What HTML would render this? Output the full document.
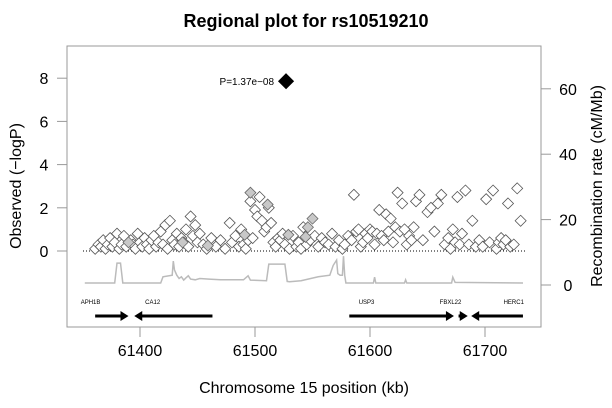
<!DOCTYPE html>
<html><head><meta charset="utf-8"><style>
body{margin:0;background:#fff}
svg{display:block;font-family:"Liberation Sans",Arial,sans-serif}
</style></head><body>
<svg id="chart" width="612" height="408" viewBox="0 0 612 408"></svg>
<script>
const posKb=[61361,61364,61366,61368,61370,61372,61374,61376,61378,61380,61382,61384,61386,61388,61392,61394,61396,61398,61400,61402,61404,61406,61408,61410,61412,61414,61416,61418,61420,61422,61424,61426,61428,61430,61432,61434,61436,61438,61440,61442,61444,61446,61448,61450,61452,61455,61458,61462,61466,61470,61474,61478,61480,61483,61486,61488,61490,61492,61494,61496,61498,61500,61502,61504,61506,61508,61510,61512,61514,61516,61518,61520,61522,61524,61526,61530,61533,61536,61538,61540,61542,61545,61548,61552,61555,61558,61561,61564,61567,61570,61573,61576,61578,61581,61584,61586,61588,61590,61592,61594,61596,61598,61600,61602,61604,61606,61608,61610,61612,61614,61616,61618,61620,61622,61624,61626,61628,61630,61632,61634,61636,61638,61640,61643,61646,61650,61653,61656,61659,61662,61665,61668,61670,61672,61674,61676,61678,61680,61683,61686,61689,61692,61695,61698,61701,61704,61707,61710,61712,61714,61716,61718,61720,61722,61725,61728,61731];
const logP=[0.1,0.3,0.2,0.5,0.1,0.3,0.6,0.2,0.4,0.8,0.1,0.3,0.7,0.2,0.5,0.3,0.1,0.8,0.4,0.2,0.6,0.3,0.1,0.5,0.7,0.2,0.4,0.9,0.3,1.2,0.1,1.4,0.5,0.3,0.8,0.2,0.6,0.4,1.0,0.2,1.6,0.7,1.2,0.4,0.8,0.3,0.1,0.6,0.2,0.5,0.1,1.3,0.4,0.7,0.2,1.0,0.3,0.1,0.5,2.3,0.6,1.9,1.6,2.5,1.4,0.9,1.1,2.0,1.3,0.4,0.2,0.6,0.5,0.8,0.3,0.1,0.7,0.2,0.4,0.1,1.1,0.3,0.5,0.7,0.2,0.6,0.4,0.3,0.8,0.2,0.5,0.1,0.3,0.7,0.5,2.6,0.9,1.0,0.2,0.4,0.8,0.6,1.0,0.9,0.3,0.8,1.9,0.7,0.5,1.7,0.9,1.5,0.4,1.1,2.7,0.9,2.2,1.0,0.3,0.7,0.5,1.1,2.3,2.6,0.5,1.8,2.0,0.9,2.2,2.6,0.3,0.6,0.1,1.0,0.4,2.5,0.3,0.8,2.8,0.3,1.4,0.2,0.5,0.2,2.4,0.4,2.8,0.1,0.4,0.6,0.3,0.5,2.2,0.2,0.3,2.9,1.4,1.2,0.4,2.0,1.8];
const hiPos=[61390,61437,61459,61496,61491,61511,61529,61550,61546,61544];
const hiP=[0.4,0.4,0.25,2.7,0.75,2.15,0.75,1.5,1.1,0.65];
const topPos=[61527];
const topP=[7.86];
const recPos=[61352,61378,61380,61383,61385,61418,61420,61428,61429,61430,61432,61434,61436,61438,61440,61442,61444,61448,61452,61460,61470,61490,61494,61496,61510,61512,61526,61528,61530,61540,61555,61565,61568,61571,61572,61574,61576,61577,61578,61579,61580,61603,61604,61605,61630,61631,61632,61671,61672,61674,61733];
const recRate=[0.6,0.6,6.7,6.7,0.6,0.6,2.5,3,7.3,4.6,3,2,2.5,1.5,2.2,2.8,1.8,1.6,2,1.8,1.6,1.6,2.8,1.5,1.3,6.4,6.4,1.1,1.0,1.3,2.5,3.0,6,7.6,3.5,3,3,8.8,3,0.6,0.6,0.6,2.4,0.6,0.6,1.6,0.6,0.6,2.4,0.8,0.6];
const genes=["APH1B","CA12","USP3","FBXL22","HERC1"];
const gStart=[61361,61463,61582,61677,61733];
const gEnd=[61390,61395,61673,61685,61688];
const gLabel=[61357,61411,61597,61670,61725];
const xTicks=[61400,61500,61600,61700];
const yTicks=[0,2,4,6,8];
const rTicks=[0,20,40,60];

const NS="http://www.w3.org/2000/svg";
const svg=document.getElementById('chart');
const X=v=>140+(v-61400)*1.15;
const Y=v=>251-v*21.6;
const R=v=>285-v*3.27;
function mk(t,a,p){const e=document.createElementNS(NS,t);for(const k in a)e.setAttribute(k,a[k]);(p||svg).appendChild(e);return e;}
function txt(s,a){const e=mk('text',a);e.textContent=s;return e;}

let t=txt('Regional plot for rs10519210',{x:306,y:27,'text-anchor':'middle','font-size':18,'font-weight':'bold'});



let box=mk('rect',{x:67,y:46,width:474,height:281,fill:'none',stroke:'#999','stroke-width':1});



yTicks.forEach(v=>{
  const g=mk('g',{});
  
  
  mk('line',{x1:57,x2:67,y1:Y(v),y2:Y(v),stroke:'#999'},g);
  const l=txt(v,{x:44,y:Y(v)+6,'text-anchor':'middle','font-size':16});g.appendChild(l);
});
rTicks.forEach(v=>{
  const g=mk('g',{});
  
  
  mk('line',{x1:541,x2:551,y1:R(v),y2:R(v),stroke:'#999'},g);
  const l=txt(v,{x:568,y:R(v)+6,'text-anchor':'middle','font-size':16});g.appendChild(l);
});
xTicks.forEach(v=>{
  const g=mk('g',{});
  
  
  mk('line',{x1:X(v),x2:X(v),y1:327,y2:337,stroke:'#999'},g);
  const l=txt(v,{x:X(v),y:356,'text-anchor':'middle','font-size':16});g.appendChild(l);
});
t=txt('Chromosome 15 position (kb)',{x:304,y:393,'text-anchor':'middle','font-size':16});


t=txt('Observed (\u2212logP)',{x:0,y:0,'text-anchor':'middle','font-size':16,transform:'translate(21,186) rotate(-90)'});


t=txt('Recombination rate (cM/Mb)',{x:0,y:0,'text-anchor':'middle','font-size':16,transform:'translate(602,186) rotate(-90)'});



let dl=mk('line',{x1:83,x2:525,y1:Y(0),y2:Y(0),stroke:'#000','stroke-dasharray':'1,2'});



let d=recPos.map((p,i)=>(i?'L':'M')+X(p).toFixed(1)+','+R(recRate[i]).toFixed(1)).join(' ');
let rl=mk('path',{d:d,fill:'none',stroke:'#bbb','stroke-width':1.5});



function dia(x,y,s,fill,stroke){return mk('polygon',{points:`${x},${y-s} ${x+s},${y} ${x},${y+s} ${x-s},${y}`,fill:fill,stroke:stroke,'stroke-width':0.8});}
posKb.forEach((p,i)=>{const e=dia(X(p),Y(logP[i]),5.5,'#fff','#555');
  
  });
hiPos.forEach((p,i)=>{const e=dia(X(p),Y(hiP[i]),5.5,'#c8c8c8','#666');
  
  });
topPos.forEach((p,i)=>{const e=dia(X(p),Y(topP[i]),7.5,'#000','#000');
  
  
  const l=txt('P=1.37e\u221208',{x:X(p)-12,y:Y(topP[i])+4,'text-anchor':'end','font-size':10});
  
  });

genes.forEach((g,i)=>{
  const grp=mk('g',{});
  
  
  const a=X(gStart[i]),b=X(gEnd[i]),dir=b>a?1:-1,y=316;
  mk('line',{x1:a,x2:b-dir*5,y1:y,y2:y,stroke:'#000','stroke-width':3},grp);
  mk('polygon',{points:`${b},${y} ${b-dir*8},${y-5} ${b-dir*8},${y+5}`,fill:'#000'},grp);
  const l=txt(g,{x:X(gLabel[i]),y:304,'font-size':6,'text-anchor':'middle'});
  grp.appendChild(l);
});
</script>
</body></html>
